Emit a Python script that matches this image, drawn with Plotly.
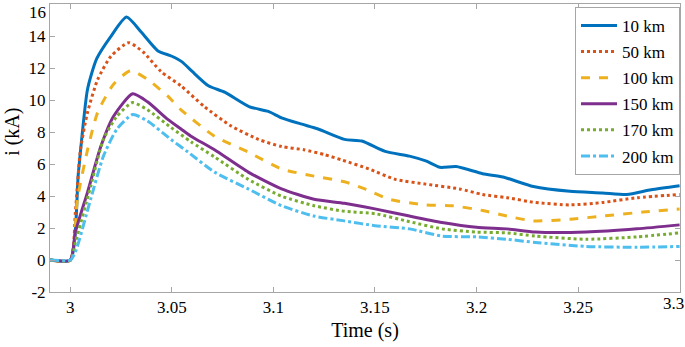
import plotly.graph_objects as go

# ---- data ----
t_10 = [2.99, 3.0, 3.004, 3.0085, 3.013, 3.02, 3.0277, 3.035, 3.043, 3.05, 3.055, 3.06, 3.068, 3.076,
        3.088, 3.0975, 3.104, 3.114, 3.122, 3.135, 3.1435, 3.155, 3.167, 3.175, 3.182, 3.19, 3.203,
        3.213, 3.228, 3.246, 3.262, 3.274, 3.286, 3.3]
i_10 = [0, 0, 5.5, 10.7, 12.6, 14.0, 15.2, 14.25, 13.1, 12.75, 12.4, 11.8, 10.9, 10.5, 9.6, 9.3, 8.9,
        8.5, 8.2, 7.55, 7.45, 6.8, 6.5, 6.2, 5.8, 5.85, 5.4, 5.2, 4.6, 4.3, 4.2, 4.1, 4.4, 4.65]

t_50 = [2.99, 3.0, 3.0025, 3.005, 3.0085, 3.0135, 3.02, 3.0287, 3.036, 3.0446, 3.0545, 3.066, 3.079,
        3.0926, 3.104, 3.115, 3.125, 3.134, 3.147, 3.16, 3.175, 3.1916, 3.203, 3.215, 3.229, 3.246,
        3.262, 3.279, 3.3]
i_50 = [0, 0, 3.0, 6.9, 9.25, 11.3, 12.75, 13.6, 13.0, 11.8, 10.9, 9.6, 8.4, 7.55, 7.1, 6.9, 6.6, 6.25,
        5.7, 5.05, 4.75, 4.45, 4.1, 3.9, 3.6, 3.45, 3.6, 3.9, 4.1]

t_100 = [2.99, 3.0, 3.0035, 3.0085, 3.0135, 3.0213, 3.0297, 3.038, 3.048, 3.0545, 3.071, 3.0876, 3.104,
         3.12, 3.135, 3.145, 3.157, 3.175, 3.188, 3.203, 3.215, 3.228, 3.246, 3.262, 3.282, 3.3]
i_100 = [0, 0, 3.8, 6.9, 9.25, 11.0, 11.85, 11.3, 10.25, 9.4, 7.75, 6.75, 5.7, 5.25, 4.9, 4.45, 3.8,
         3.45, 3.4, 3.1, 2.75, 2.45, 2.55, 2.75, 3.0, 3.2]

t_150 = [2.99, 3.0, 3.0025, 3.0085, 3.015, 3.0213, 3.0307, 3.038, 3.048, 3.0545, 3.0594, 3.071, 3.0876,
         3.104, 3.12, 3.135, 3.15, 3.167, 3.183, 3.2, 3.215, 3.229, 3.254, 3.279, 3.3]
i_150 = [0, 0, 1.75, 4.25, 7.1, 9.0, 10.4, 9.9, 8.8, 8.2, 7.75, 6.9, 5.5, 4.45, 3.8, 3.55, 3.2, 2.75,
         2.35, 2.05, 1.95, 1.75, 1.75, 1.95, 2.2]

t_170 = [2.99, 3.0, 3.0025, 3.01, 3.0163, 3.023, 3.0307, 3.038, 3.0495, 3.0594, 3.071, 3.0876, 3.104,
         3.12, 3.135, 3.15, 3.167, 3.183, 3.2, 3.215, 3.229, 3.254, 3.279, 3.3]
i_170 = [0, 0, 1.1, 4.6, 7.55, 9.0, 9.85, 9.4, 8.3, 7.4, 6.45, 5.05, 4.0, 3.4, 3.05, 2.9, 2.4, 1.95,
         1.75, 1.7, 1.5, 1.3, 1.45, 1.7]

t_200 = [2.99, 3.0, 3.0025, 3.01, 3.0163, 3.023, 3.0307, 3.038, 3.0495, 3.058, 3.071, 3.0876, 3.104,
         3.12, 3.135, 3.15, 3.167, 3.183, 3.2, 3.215, 3.229, 3.254, 3.279, 3.3]
i_200 = [0, 0, 0.5, 3.8, 6.5, 8.2, 9.1, 8.7, 7.55, 6.75, 5.5, 4.45, 3.4, 2.75, 2.45, 2.15, 1.95, 1.5,
         1.45, 1.3, 1.1, 0.85, 0.8, 0.85]

labels = ["10 km", "50 km", "100 km", "150 km", "170 km", "200 km"]
x_ticks = [3.0, 3.05, 3.1, 3.15, 3.2, 3.25, 3.3]
x_ticklabels = ["3", "3.05", "3.1", "3.15", "3.2", "3.25", "3.3"]
y_ticks = [-2, 0, 2, 4, 6, 8, 10, 12, 14, 16]
y_ticklabels = ["-2", "0", "2", "4", "6", "8", "10", "12", "14", "16"]
x_title = "Time (s)"
y_title = "i (kA)"

# ---- styles ----
series = [(t_10, i_10), (t_50, i_50), (t_100, i_100), (t_150, i_150), (t_170, i_170), (t_200, i_200)]
colors = ["#0072BD", "#D95319", "#EDB120", "#7E2F8E", "#77AC30", "#4DBEEE"]
dashes = ["solid", "dot", "dash", "solid", "dot", "dashdot"]

fig = go.Figure()
for (t, i), name, c, d in zip(series, labels, colors, dashes):
    fig.add_trace(go.Scatter(
        x=t, y=i, mode="lines", name=name, legendgroup=name,
        line=dict(color=c, width=3, dash=d, shape="spline", smoothing=0.6),
    ))

FONT = "Liberation Serif, Times New Roman, serif"
axis_common = dict(
    showgrid=False, zeroline=False, showline=True, linecolor="#a6a6a6", linewidth=1,
    mirror="allticks", ticks="inside", ticklen=5, tickcolor="#a6a6a6", automargin=False,
    ticklabeloverflow="allow", tickfont=dict(size=17),
)

# edge tick labels (last x, top y) are drawn as annotations so they stay inside the page
x_edge_text = x_ticklabels[-1]
y_edge_text = y_ticklabels[-1]
x_text = x_ticklabels[:-1] + [""]
y_text = y_ticklabels[:-1] + [""]

fig.update_layout(
    width=685, height=347,
    margin=dict(l=50, r=5, t=4, b=55),
    paper_bgcolor="white", plot_bgcolor="white",
    font=dict(family=FONT, color="black", size=17),
    showlegend=True,
    legend=dict(
        x=1, y=0.99, xanchor="right", yanchor="top",
        bgcolor="white", bordercolor="#a6a6a6", borderwidth=1,
        font=dict(size=17),
        tracegroupgap=1, itemwidth=36,
    ),
    xaxis=dict(
        range=[2.99, 3.3002], tickvals=x_ticks, ticktext=x_text,
        title=dict(text=x_title, font=dict(size=20), standoff=6),
        **axis_common,
    ),
    yaxis=dict(
        range=[-2, 16.02], tickvals=y_ticks, ticktext=y_text,
        **axis_common,
    ),
    annotations=[
        dict(text=x_edge_text, x=x_ticks[-1], xref="x", y=0, yref="paper",
             xanchor="right", yanchor="top", xshift=5, yshift=-1, showarrow=False,
             font=dict(size=17), borderpad=0),
        dict(text=y_edge_text, x=0, xref="paper", y=y_ticks[-1], yref="y",
             xanchor="right", yanchor="top", xshift=-3, yshift=2, showarrow=False,
             font=dict(size=17), borderpad=0),
        dict(text=y_title, textangle=-90, x=0, xref="paper", y=0.556, yref="paper",
             xanchor="center", yanchor="middle", xshift=-37, showarrow=False,
             font=dict(size=20)),
    ],
)

fig.write_html(
    "out.html",
    config={"displayModeBar": False},
    post_script="document.body.style.margin='0';document.body.style.padding='0';",
)
